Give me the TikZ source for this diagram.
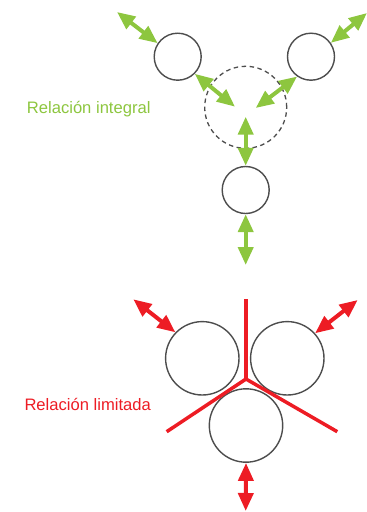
\documentclass[tikz,border=0pt]{standalone}
\usepackage{fontspec}
\setmainfont{Liberation Sans}
\usetikzlibrary{arrows.meta}
\definecolor{relgreen}{HTML}{8DC63F}
\definecolor{relred}{HTML}{ED1C24}
\definecolor{ringgray}{HTML}{4D4D4D}

\begin{document}
\begin{tikzpicture}[x=1pt,y=-1pt,
  ring/.style={circle,draw=ringgray,line width=1.4pt,inner sep=0pt},
  flow/.style={line width=4pt,{Triangle[length=18pt,width=15pt]}-{Triangle[length=18pt,width=15pt]}},
  wall/.style={relred,line width=3.5pt},
  caption/.style={anchor=base west,inner sep=0pt,font=\fontsize{16.6}{19}\selectfont}]
  \useasboundingbox (0,0) rectangle (367,512);
  % integral relation
  \node[ring,minimum size=47pt] (tl) at (177.7,56.7) {};
  \node[ring,minimum size=47pt] (tr) at (311,56.7) {};
  \node[ring,minimum size=47pt] (bt) at (245.7,190) {};
  \node[circle,draw=ringgray,line width=1.3pt,dash pattern=on 4.5pt off 3.5pt,minimum size=82pt,inner sep=0pt] (dc) at (245.7,107.3) {};
  \coordinate (tlout) at (117,12);
  \coordinate (trout) at (367,13);
  \coordinate (tlin) at (235,106.7);
  \coordinate (trin) at (255.7,108);
  \coordinate (btin) at (245.7,116.7);
  \coordinate (btout) at (245.7,265);
  \draw[flow,relgreen] (tlout) -- (tl.146);
  \draw[flow,relgreen] (trout) -- (tr.35);
  \draw[flow,relgreen] (tl.-45) -- (tlin);
  \draw[flow,relgreen] (tr.235) -- (trin);
  \draw[flow,relgreen] (btin) -- (bt.north);
  \draw[flow,relgreen] (bt.south) -- (btout);
  \node[caption,text=relgreen] (lint) at (26.7,113.3) {Relación integral};
  % limited relation
  \node[ring,minimum size=73.4pt] (lc) at (202.3,358.3) {};
  \node[ring,minimum size=73.4pt] (rc) at (287.3,358.3) {};
  \node[ring,minimum size=73.4pt] (bc) at (246,425.5) {};
  \coordinate (wtop) at (246,299);
  \coordinate (jn) at (246,379);
  \coordinate (wl) at (166.7,431.7);
  \coordinate (wr) at (337.3,431.7);
  \draw[wall] (wtop) -- (jn);
  \draw[wall,line join=round] (wl) -- (jn) -- (wr);
  \coordinate (lcout) at (133.3,299.3);
  \coordinate (rcout) at (357.7,300);
  \coordinate (bcout) at (245.7,511);
  \draw[flow,relred] (lcout) -- (lc.136);
  \draw[flow,relred] (rcout) -- (rc.42);
  \draw[flow,relred] (bc.south) -- (bcout);
  \node[caption,text=relred] (llim) at (24.3,410) {Relación limitada};
\end{tikzpicture}
\end{document}
